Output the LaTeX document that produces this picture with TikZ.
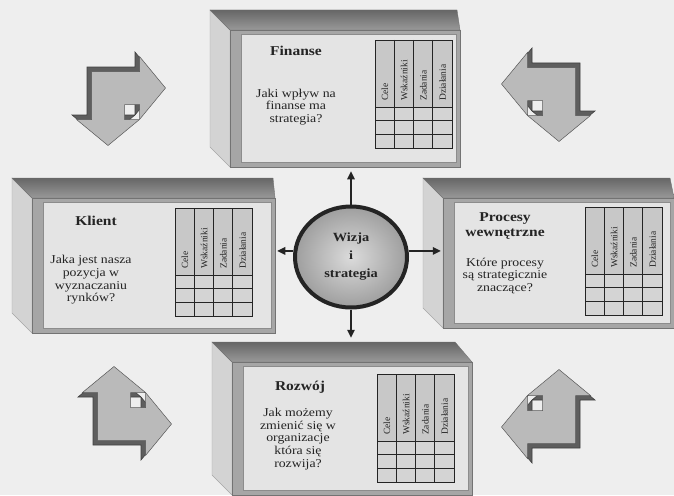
\documentclass[tikz,border=0pt]{standalone}
\usepackage{fontspec}
\setmainfont{Liberation Serif}[FakeStretch=1.15]
\newfontfamily\plainserif{Liberation Serif}
\usetikzlibrary{shapes.geometric,arrows.meta}

\definecolor{bgpaper}{HTML}{EEEEEE}
\definecolor{inkdark}{HTML}{242424}
\definecolor{panel}{HTML}{E4E4E4}
\definecolor{framegray}{HTML}{A6A6A6}
\definecolor{sidegray}{HTML}{D3D3D3}
\definecolor{headgray}{HTML}{C8C8C8}
\definecolor{cellgray}{HTML}{D4D4D4}
\definecolor{arrowface}{HTML}{BABABA}
\definecolor{arrowedge}{HTML}{5E5E5E}

\newcommand\titlefont{\fontsize{13.5}{15}\selectfont\bfseries}
\newcommand\askfont{\fontsize{12}{12.6}\selectfont}
\newcommand\colfont{\plainserif\fontsize{9.5}{10}\selectfont}
\newcommand\hubfont{\fontsize{12.5}{18}\selectfont\bfseries}

\tikzset{
  sideface/.style={fill=sidegray, draw=black!35, line width=0.4pt},
  topface/.style={top color=black!60, bottom color=black!40, draw=black!55, line width=0.4pt},
  frontface/.style={rectangle, fill=framegray, draw=black!55, line width=0.5pt, inner sep=0pt},
  innerface/.style={fill=panel, draw=black!45, line width=0.5pt},
  headcell/.style={fill=headgray},
  rowcell/.style={fill=cellgray},
  gridline/.style={draw=inkdark, line width=0.9pt},
  collabel/.style={rotate=90, anchor=west, inner sep=0pt, font=\colfont, text=inkdark},
  boxtitle/.style={align=center, font=\titlefont, text=inkdark, inner sep=0pt},
  boxask/.style={align=center, font=\askfont, text=inkdark, inner sep=0pt},
  hub/.style={ellipse, draw=inkdark, line width=4pt, inner color=black!14, outer color=black!38,
    minimum width=112pt, minimum height=101pt, inner sep=0pt, align=center, font=\hubfont, text=inkdark},
  flow/.style={draw=inkdark, line width=1.4pt, -{Triangle[length=8pt,width=7.5pt]}},
  arrowback/.style={fill=arrowedge, draw=black!75, line width=0.6pt},
  arrowfront/.style={fill=arrowface, draw=black!65, line width=0.5pt},
  bentarrow/.pic={
    \path[arrowback] \bentoutline;
    \path[arrowfront, shift={(4.5,4.5)}] \bentoutline;
  }
}

% L-shaped double arrow, outer corner at the origin, arms along +x and +y
\def\bentoutline{(0,0) -- (48,0) -- (48,-15) -- (74,16.5) -- (48,48) -- (48,33)
  -- (33,33) -- (33,48) -- (48,48) -- (16.5,74) -- (-15,48) -- (0,48) -- cycle}

% box seen from the front, its back shifted up and left
% #1 name, #2 left, #3 top, #4 right, #5 bottom, #6 slant of the back right edge
\newcommand\cubebox[6]{%
  \path[sideface] (#2-20,#3-20) -- (#2,#3) -- (#2,#5) -- (#2-20,#5-20) -- cycle;
  \path[topface] (#2-20,#3-20) -- (#4-#6,#3-20) -- (#4,#3) -- (#2,#3) -- cycle;
  \node[frontface, minimum width={#4-#2}, minimum height={#5-#3}] (#1) at ({(#2+#4)/2},{(#3+#5)/2}) {};
  \path[innerface] (#2+11,#3+4) rectangle (#4-4,#5-5);
}

% four-column table with rotated headers and three empty rows
\newcommand\scoretable[3]{%
  \begin{scope}[shift={(#2,#3)}]
    \fill[headcell] (0,0) rectangle (77,67);
    \fill[rowcell] (0,67) rectangle (77,108);
    \foreach \i/\lbl in {0/Cele,1/Wskaźniki,2/Zadania,3/Działania}{
      \node[collabel] (#1-col\i) at ({19.25*\i+9.8},61) {\lbl};
    }
    \draw[gridline] (0,0) rectangle (77,108);
    \foreach \x in {19.25,38.5,57.75} \draw[gridline] (\x,0) -- (\x,108);
    \foreach \y in {67,80.7,94.3} \draw[gridline] (0,\y) -- (77,\y);
  \end{scope}
}

\begin{document}
\begin{tikzpicture}[x=1pt,y=-1pt]
  \path[use as bounding box, fill=bgpaper] (0,0) rectangle (674,495);

  % corner arrows
  \pic at (87,67) {bentarrow};
  \pic[xscale=-1] at (580,63) {bentarrow};
  \pic[yscale=-1] at (93,445) {bentarrow};
  \pic[xscale=-1,yscale=-1] at (580,448) {bentarrow};

  % the four perspectives
  \cubebox{finanse}{230}{30}{460}{167}{3}
  \scoretable{finanse}{375}{40}
  \node[boxtitle, anchor=base] (finanse-title) at (296,56) {Finanse};
  \node[boxask] (finanse-ask) at (296,107) {Jaki wpływ na\\finanse ma\\strategia?};

  \cubebox{klient}{32}{198}{275}{333}{2}
  \scoretable{klient}{175}{208}
  \node[boxtitle, anchor=base] (klient-title) at (96,225) {Klient};
  \node[boxask] (klient-ask) at (91,280) {Jaka jest nasza\\pozycja w\\wyznaczaniu\\rynków?};

  \cubebox{procesy}{443}{198}{674}{328}{4}
  \scoretable{procesy}{585}{207}
  \node[boxtitle] (procesy-title) at (505,226) {Procesy\\wewnętrzne};
  \node[boxask] (procesy-ask) at (505,276) {Które procesy\\są strategicznie\\znaczące?};

  \cubebox{rozwoj}{232}{362}{472}{495}{17}
  \scoretable{rozwoj}{377}{374}
  \node[boxtitle, anchor=base] (rozwoj-title) at (300,390) {Rozwój};
  \node[boxask] (rozwoj-ask) at (298,439) {Jak możemy\\zmienić się w\\organizacje\\która się\\rozwija?};

  % vision and strategy hub
  \node[hub] (wizja) at (351,257) {Wizja\\i\\strategia};

  \draw[flow, shorten >=4pt] (wizja.north) -- (wizja.north |- finanse.south);
  \draw[flow, shorten >=24pt] (wizja.south) -- (wizja.south |- rozwoj.north);
  \draw[flow, shorten >=2pt] (wizja.174) -- (wizja.174 -| klient.east);
  \draw[flow, shorten >=2pt] (wizja.6) -- (wizja.6 -| procesy.west);
\end{tikzpicture}
\end{document}
